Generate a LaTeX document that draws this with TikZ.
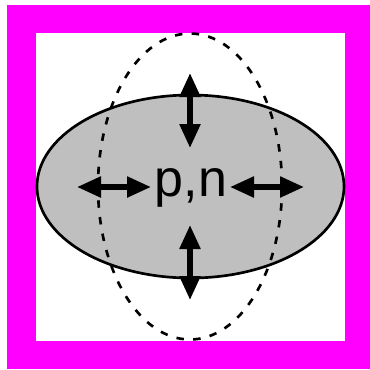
\documentclass[tikz,border=0pt]{standalone}
\usepackage{fontspec}
\setmainfont{Liberation Sans}
\usetikzlibrary{arrows.meta}
\definecolor{framemag}{RGB}{255,0,255}
\definecolor{nucgray}{RGB}{191,191,191}

\begin{document}
\begin{tikzpicture}[x=0.75pt,y=-0.75pt]
\useasboundingbox (0,0) rectangle (370,369);
% frame
\fill[framemag] (7,5) rectangle (370,369);
\fill[white] (36,33) rectangle (345,341);
% nucleus shapes
\draw[line width=2pt,fill=nucgray] (190.5,186.5) ellipse [x radius=153.5,y radius=91.5];
\draw[line width=2pt,dash pattern=on 5.6pt off 7pt] (190,186.5) ellipse [x radius=92,y radius=153];
\node[font=\fontsize{39}{39}\selectfont,inner sep=0pt] (PN) at (191,188) {p,n};
\coordinate (T1) at (190,73);
\coordinate (T2) at (190,148);
\coordinate (B1) at (190,225);
\coordinate (B2) at (190,300);
\coordinate (L1) at (77,187);
\coordinate (L2) at (151,187);
\coordinate (R1) at (230,187);
\coordinate (R2) at (304,187);
\draw[{Triangle[width=15pt,length=18pt]}-{Triangle[width=15pt,length=18pt]},line width=4pt] (T1)--(T2);
\draw[{Triangle[width=15pt,length=18pt]}-{Triangle[width=15pt,length=18pt]},line width=4pt] (B1)--(B2);
\draw[{Triangle[width=15pt,length=18pt]}-{Triangle[width=15pt,length=18pt]},line width=4pt] (L1)--(L2);
\draw[{Triangle[width=15pt,length=18pt]}-{Triangle[width=15pt,length=18pt]},line width=4pt] (R1)--(R2);
\end{tikzpicture}
\end{document}
